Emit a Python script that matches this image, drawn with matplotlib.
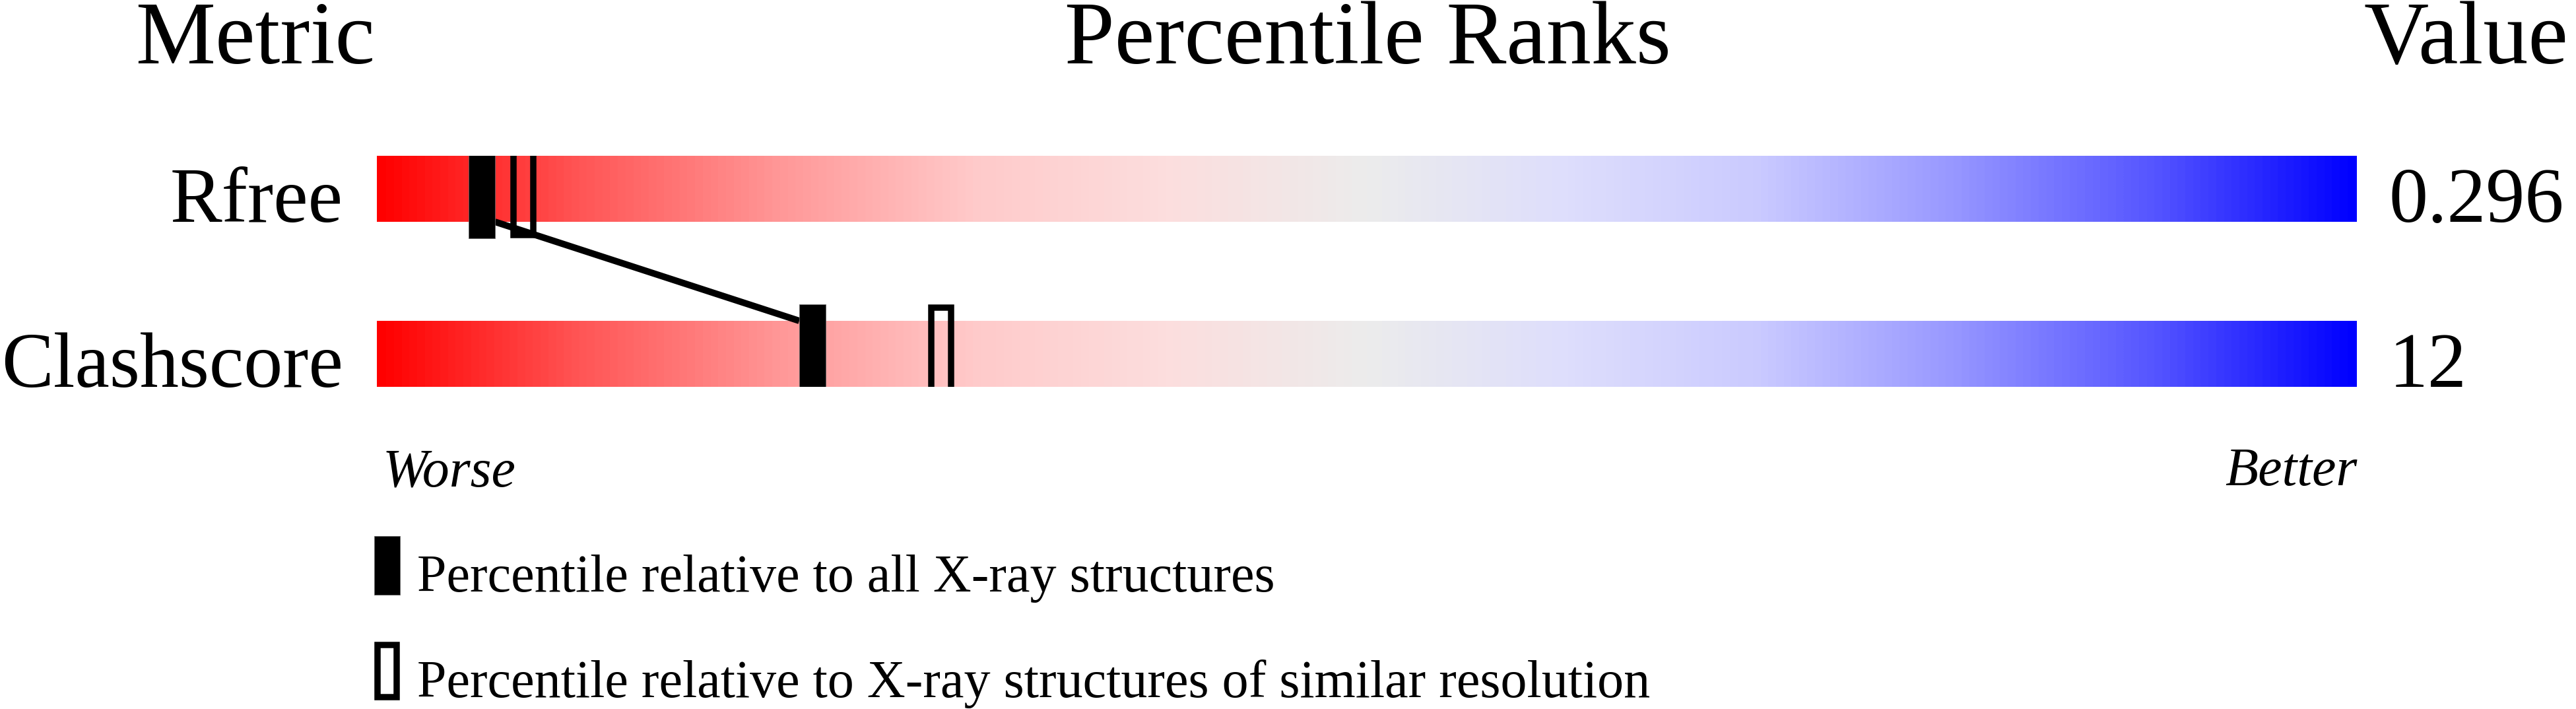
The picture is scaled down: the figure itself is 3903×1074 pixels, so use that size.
import numpy as np
import matplotlib
matplotlib.use("Agg")
import matplotlib.pyplot as plt
from matplotlib import colors, transforms
from matplotlib.patches import Rectangle

# data
metrics = ["Rfree", "Clashscore"]
values = ["0.296", "12"]
pct_all = [5.3, 22.0]        # percentile vs all X-ray structures
pct_similar = [7.4, 28.5]    # percentile vs similar resolution
legend_labels = ["Percentile relative to all X-ray structures",
                 "Percentile relative to X-ray structures of similar resolution"]

W, H = 3903, 1074
plt.rcParams["font.family"] = ["Liberation Serif", "DejaVu Serif"]

fig = plt.figure(figsize=(W / 100, H / 100), dpi=100)


def fx(x):
    return x / W


def fy(y):
    return (H - y) / H


# slider colours: red -> light grey -> blue
stops = [(0.0, (255, 0, 0)), (0.1, (255, 85, 85)), (0.2, (255, 150, 150)),
         (0.3, (255, 202, 202)), (0.4, (252, 222, 222)), (0.5, (236, 236, 236)),
         (0.6, (222, 222, 252)), (0.7, (202, 202, 255)), (0.8, (150, 150, 255)),
         (0.9, (85, 85, 255)), (1.0, (0, 0, 255))]
cmap = colors.LinearSegmentedColormap.from_list(
    "slider", [(s, tuple(c / 255 for c in rgb)) for s, rgb in stops])

ax = fig.add_axes([fx(571), fy(586), 3000 / W, 350 / H])
grad = np.linspace(0, 1, 600).reshape(1, -1)
half_bar = 0.2
for i in range(len(metrics)):
    ax.imshow(grad, cmap=cmap, extent=(0, 100, i + half_bar, i - half_bar),
              aspect="auto", interpolation="bilinear")
ax.set_xlim(0, 100)
ax.set_ylim(1.2, -0.2)
ax.axis("off")

mw = (40 / 30) / 2          # half marker width in percentile units
mh = 0.3                    # half marker height in row units
bpx = 9.5                   # open marker border in pixels
bx, by = bpx / 30, bpx / 250
for i in range(len(metrics)):
    ax.add_patch(Rectangle((pct_similar[i] - mw + bx / 2, i - mh + by / 2),
                           2 * mw - bx, 2 * mh - by, facecolor="none",
                           edgecolor="black", lw=bpx * 0.72, joinstyle="miter", zorder=3))
    ax.add_patch(Rectangle((pct_all[i] - mw, i - mh), 2 * mw, 2 * mh,
                           facecolor="black", edgecolor="#666666", lw=0.6, zorder=5))

ax.plot([pct_all[0] + mw, pct_all[1] - mw], [half_bar, 1 - half_bar],
        color="black", lw=7.2, solid_capstyle="butt", zorder=4)

# headers
fig.text(fx(387), fy(96), "Metric", fontsize=98, ha="center", va="baseline")
fig.text(fx(2072), fy(96), "Percentile Ranks", fontsize=98, ha="center", va="baseline")
fig.text(fx(3736), fy(96), "Value", fontsize=98, ha="center", va="baseline")

# row labels and values
trans = transforms.blended_transform_factory(fig.transFigure, ax.transData)
for i, (name, val) in enumerate(zip(metrics, values)):
    ax.text(fx(520), i + half_bar, name, transform=trans, fontsize=85,
            ha="right", va="baseline", clip_on=False)
    ax.text(fx(3620), i + half_bar, val, transform=trans, fontsize=85,
            ha="left", va="baseline", clip_on=False)

# worse / better under the slider
xtrans = transforms.blended_transform_factory(ax.transData, fig.transFigure)
ax.text(0.3, fy(737), "Worse", transform=xtrans, fontsize=59, style="italic",
        ha="left", va="baseline", clip_on=False)
ax.text(100, fy(735), "Better", transform=xtrans, fontsize=59, style="italic",
        ha="right", va="baseline", clip_on=False)

# legend
leg_tops = [812, 972]
for k, label in enumerate(legend_labels):
    top = leg_tops[k]
    if k == 0:
        fig.patches.append(Rectangle((fx(567), fy(top + 89)), 39 / W, 89 / H,
                                     transform=fig.transFigure, facecolor="black",
                                     edgecolor="#666666", lw=0.6))
    else:
        b = 9.5
        fig.patches.append(Rectangle((fx(567 + b / 2), fy(top + 89 - b / 2)), (39 - b) / W,
                                     (89 - b) / H, transform=fig.transFigure,
                                     facecolor="none", edgecolor="black", lw=b * 0.72,
                                     joinstyle="miter"))
    fig.text(fx(632), fy(top + 84), label, fontsize=57.6, ha="left", va="baseline")

fig.savefig("out.png", dpi=100, facecolor="white")
